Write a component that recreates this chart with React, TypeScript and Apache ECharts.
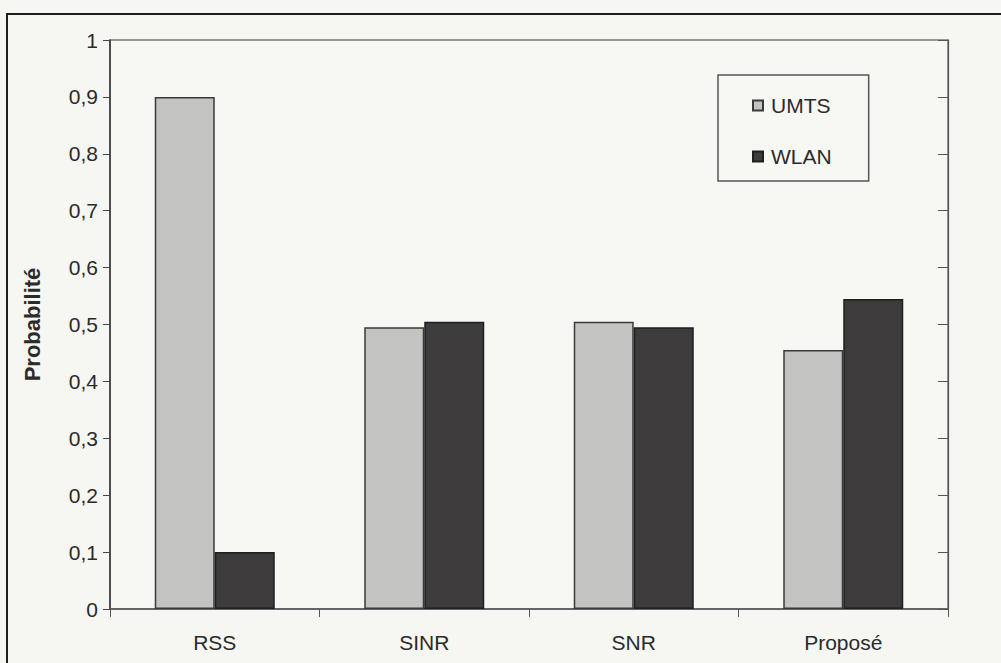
import React, { useEffect, useRef } from "react";
import * as echarts from "echarts";

// Probability of selecting each network, per selection criterion
const categories = ["RSS", "SINR", "SNR", "Proposé"];
const umtsValues = [0.9, 0.495, 0.505, 0.455];
const wlanValues = [0.1, 0.505, 0.495, 0.545];
const yTicks = [0, 0.1, 0.2, 0.3, 0.4, 0.5, 0.6, 0.7, 0.8, 0.9, 1];

const FONT = "'Liberation Sans', Arial, sans-serif";
const TEXT = "#2b2b2b";

const formatTick = (v: number) => String(Math.round(v * 10) / 10).replace(".", ",");

export default function App() {
  const ref = useRef<HTMLDivElement>(null);

  useEffect(() => {
    if (!ref.current) return;
    const chart = echarts.init(ref.current, undefined, { renderer: "svg" });
    chart.setOption({
      animation: false,
      backgroundColor: "#f6f6f3",
      textStyle: { fontFamily: FONT },
      grid: {
        left: 110,
        right: 53,
        top: 40,
        bottom: 54,
        show: true,
        backgroundColor: "#f7f7f4",
        borderColor: "#7a7a7a",
        borderWidth: 1.5,
      },
      legend: {
        orient: "vertical",
        left: 718,
        top: 75,
        padding: [20, 37, 14, 34],
        itemGap: 30,
        itemWidth: 10,
        itemHeight: 10,
        icon: "rect",
        borderColor: "#555",
        borderWidth: 1.5,
        textStyle: { fontFamily: FONT, fontSize: 21, color: TEXT, padding: [0, 0, 0, 3] },
        data: ["UMTS", "WLAN"],
      },
      xAxis: {
        type: "category",
        data: categories,
        axisLine: { lineStyle: { color: "#555", width: 1.5 } },
        axisTick: { show: true, length: 8, lineStyle: { color: "#555" } },
        axisLabel: { fontFamily: FONT, fontSize: 21, color: TEXT, margin: 23 },
      },
      yAxis: [
        {
          type: "value",
          min: 0,
          max: 1,
          interval: 0.1,
          name: "Probabilité",
          nameLocation: "middle",
          nameGap: 67,
          nameTextStyle: { fontFamily: FONT, fontSize: 22, fontWeight: "bold", color: TEXT },
          axisLine: { show: true, lineStyle: { color: "#333", width: 1.5 } },
          axisTick: { show: true, length: 7, lineStyle: { color: "#444" } },
          axisLabel: {
            fontFamily: FONT,
            fontSize: 21,
            color: TEXT,
            margin: 12,
            formatter: (v: number) => (yTicks.some((t) => Math.abs(t - v) < 1e-9) ? formatTick(v) : ""),
          },
          splitLine: { show: false },
        },
        {
          type: "value",
          position: "right",
          min: 0,
          max: 1,
          interval: 0.1,
          axisLine: { show: true, lineStyle: { color: "#555", width: 1.2 } },
          axisTick: { show: true, inside: true, length: 10, lineStyle: { color: "#555" } },
          axisLabel: { show: false },
          splitLine: { show: false },
        },
      ],
      series: [
        {
          name: "UMTS",
          type: "bar",
          data: umtsValues,
          barWidth: 60,
          barGap: "0%",
          itemStyle: { color: "#c3c3c1", borderColor: "#3a3a3a", borderWidth: 1.5 },
        },
        {
          name: "WLAN",
          type: "bar",
          data: wlanValues,
          barWidth: 60,
          barGap: "0%",
          itemStyle: { color: "#3d3b3c", borderColor: "#1f1f1f", borderWidth: 1.5 },
        },
      ],
      graphic: [
        {
          type: "rect",
          silent: true,
          shape: { x: 7, y: 14, width: 1100, height: 800 },
          style: { fill: "none", stroke: "#1e1e1e", lineWidth: 2 },
        },
      ],
    });
    return () => chart.dispose();
  }, []);

  return (
    <div
      ref={ref}
      style={{ position: "fixed", left: 0, top: 0, width: 1001, height: 663 }}
    />
  );
}
